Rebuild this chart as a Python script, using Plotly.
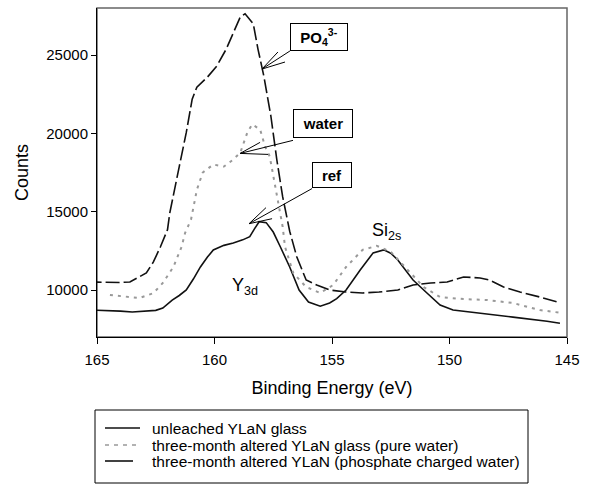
import plotly.graph_objects as go

# ---- data ----
ref_x = [165.3, 164.5, 164.0, 163.5, 163.0, 162.5, 162.2, 161.8, 161.5, 161.2, 160.9, 160.6, 160.3, 160.05,
         159.6, 159.2, 158.8, 158.5, 158.3, 158.1, 157.8, 157.5, 157.2, 156.8, 156.4, 156.0, 155.5, 155.1,
         154.8, 154.4, 153.8, 153.25, 152.8, 152.5, 152.2, 151.9, 151.55, 150.96, 150.4, 149.85, 148.7,
         147.3, 145.85, 145.3]
ref_y = [8720, 8700, 8650, 8600, 8640, 8700, 8850, 9360, 9650, 10000, 10700, 11470, 12100, 12560,
         12850, 13000, 13200, 13400, 13900, 14360, 14300, 13700, 12760, 11470, 10000, 9230, 8970, 9170,
         9450, 10000, 11280, 12370, 12560, 12350, 11920, 11300, 10640, 9810, 9040, 8720, 8530,
         8270, 8010, 7880]

water_x = [164.45, 163.7, 163.2, 162.6, 162.2, 161.75, 161.4, 161.25, 161.0, 160.75, 160.5, 160.05, 159.6,
           159.2, 158.9, 158.6, 158.4, 158.06, 157.85, 157.65, 157.5, 157.3, 157.1, 157.0, 156.65, 156.1,
           155.5, 154.95, 154.4, 153.7, 153.1, 152.5, 151.8, 151.1, 150.4, 149.4, 148.4, 147.3, 146.15, 145.2]
water_y = [9680, 9550, 9490, 9800, 10450, 11470, 12760, 13650, 14490, 16400, 17500, 18010, 17880,
           18330, 18780, 20060, 20570, 20250, 19170, 18530, 17250, 15770, 14040, 12760, 11090, 10190,
           9810, 10320, 11470, 12560, 12820, 12440, 11280, 10190, 9550, 9420, 9360, 9170, 8720, 8530]

phos_x = [165.4, 164.9, 164.45, 164.0, 163.6, 163.3, 162.9, 162.6, 162.3, 162.0, 161.9, 161.5, 161.2,
          160.95, 160.75, 160.3, 159.9, 159.5, 159.2, 158.9, 158.7, 158.6, 158.35, 158.15, 157.9, 157.6,
          157.35, 157.1, 156.8, 156.5, 156.1, 155.65, 155.1, 154.4, 153.7, 153.0, 152.2, 151.55, 150.8,
          150.1, 149.4, 148.7, 148.3, 147.7, 147.0, 146.15, 145.4]
phos_y = [10510, 10500, 10450, 10480, 10510, 10770, 11090, 11790, 12760, 13850, 14940, 17880, 20060,
          22180, 22950, 23590, 24300, 25380, 26470, 27440, 27630, 27440, 26990, 25380, 23650, 21090,
          18330, 15960, 13750, 12120, 10640, 10320, 10000, 9870, 9810, 9870, 10000, 10320, 10450,
          10510, 10830, 10770, 10640, 10190, 9870, 9550, 9230]

names = ["unleached YLaN glass",
         "three-month altered YLaN glass (pure water)",
         "three-month altered YLaN (phosphate charged water)"]

x_ticks = [165, 160, 155, 150, 145]
y_ticks = [10000, 15000, 20000, 25000]

FONT = "Liberation Sans, Arial, sans-serif"

# plot-area geometry in pixels (for layout decorations only)
W, H = 590, 484
ML, MR, MT, MB = 97, 23, 8, 147
PW, PH = W - ML - MR, H - MT - MB


def px(xp):
    return (xp - ML) / PW


def py(yp):
    return (H - MB - yp) / PH


styles = [dict(color="#111111", width=1.6),
          dict(color="#999999", width=2, dash="3px,5px"),
          dict(color="#111111", width=1.6, dash="14px,4px")]
legend_styles = [dict(color="#111111", width=1.6),
                 dict(color="#999999", width=1.6, dash="4px,5px"),
                 dict(color="#111111", width=1.6)]

fig = go.Figure()
for xs, ys, nm, st in zip([ref_x, water_x, phos_x], [ref_y, water_y, phos_y], names, styles):
    fig.add_trace(go.Scatter(x=xs, y=ys, mode="lines", name=nm, line=st, showlegend=False))

# label boxes with arrows
boxes = [
    ("<b>PO<sub>4</sub><sup>3-</sup></b>", 155.55, 26154, 52, 22),
    ("<b>water</b>", 155.38, 20641, 54, 23),
    ("<b>ref</b>", 155.0, 17340, 34, 20),
]
for txt, bx, by, w, h in boxes:
    fig.add_annotation(x=bx, y=by, xref="x", yref="y", text=txt, showarrow=False,
                       font=dict(family=FONT, size=15, color="black"),
                       bordercolor="black", borderwidth=1, borderpad=2, bgcolor="white",
                       width=w, height=h)

# arrows: (tail, tip, arm1, arm2)
arrows = [
    ((156.79, 25256), (157.98, 24103), (157.30, 25192), (157.00, 24551)),
    ((156.66, 19551), (158.91, 18718), (158.06, 19423), (157.72, 18654)),
    ((155.85, 16474), (158.53, 14231), (157.81, 15256), (157.55, 14551)),
]
for tail, tip, a1, a2 in arrows:
    for p in (tail, a1, a2):
        fig.add_shape(type="line", xref="x", yref="y", x0=p[0], y0=p[1], x1=tip[0], y1=tip[1],
                      line=dict(color="black", width=1))

fig.add_annotation(x=158.70, y=10250, xref="x", yref="y", text="Y<sub>3d</sub>", showarrow=False,
                   font=dict(family=FONT, size=18, color="black"))
fig.add_annotation(x=152.70, y=13720, xref="x", yref="y", text="Si<sub>2s</sub>", showarrow=False,
                   font=dict(family=FONT, size=18, color="black"))

# grey frame
fig.add_shape(type="rect", xref="x domain", yref="y domain", x0=0, y0=0, x1=1, y1=1,
              line=dict(color="#666666", width=1.5), layer="below")

# legend box drawn below the plot
fig.add_shape(type="rect", xref="paper", yref="paper", x0=px(95), x1=px(528), y0=py(483), y1=py(410),
              line=dict(color="black", width=1), fillcolor="white")
leg_rows = [428, 445, 461]
leg_ends = [140, 140, 133]
for row, end, nm, st in zip(leg_rows, leg_ends, names, legend_styles):
    fig.add_shape(type="line", xref="paper", yref="paper", x0=px(105), x1=px(end), y0=py(row), y1=py(row),
                  line=st)
    fig.add_annotation(x=px(150), y=py(row), xref="paper", yref="paper", text=nm, showarrow=False,
                       xanchor="left", yanchor="middle",
                       font=dict(family=FONT, size=15.5, color="black"))

fig.update_layout(
    width=W, height=H,
    margin=dict(l=ML, r=MR, t=MT, b=MB),
    paper_bgcolor="white", plot_bgcolor="white",
    font=dict(family=FONT, size=15, color="black"),
    showlegend=False,
)
fig.update_xaxes(range=[165, 145], tickvals=x_ticks, ticktext=[str(v) for v in x_ticks],
                 showgrid=False, zeroline=False, showline=True, linecolor="black", linewidth=1,
                 ticks="outside", ticklen=6, tickcolor="black", ticklabelstandoff=3,
                 title=dict(text="Binding Energy (eV)", font=dict(size=18), standoff=14),
                 tickfont=dict(size=15))
fig.update_yaxes(range=[7000, 28000], tickvals=y_ticks, ticktext=[str(v) for v in y_ticks],
                 showgrid=False, zeroline=False, showline=True, linecolor="black", linewidth=1,
                 ticks="outside", ticklen=5, tickcolor="black",
                 title=dict(text="Counts", font=dict(size=18), standoff=12),
                 tickfont=dict(size=15))

fig.write_html("out.html")
